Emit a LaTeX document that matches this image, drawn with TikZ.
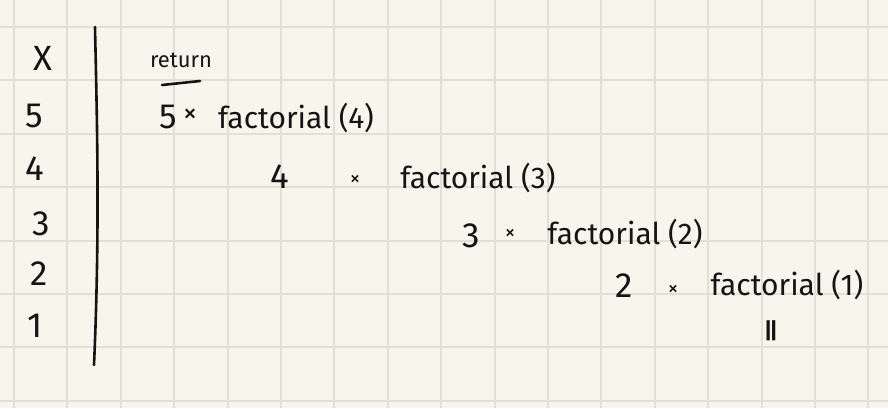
\documentclass[tikz,border=0pt]{standalone}
\usepackage{fontspec}
\setmainfont{Fira Sans}
\definecolor{paper}{HTML}{F8F6EC}
\definecolor{gridc}{HTML}{E2DFD5}
\definecolor{ink}{HTML}{141414}
\begin{document}
\begin{tikzpicture}[x=1pt,y=-1pt,
  hand/.style={text=ink, inner sep=0pt, anchor=base, font=\fontsize{30}{30}\selectfont},
  digit/.style={text=ink, inner sep=0pt, anchor=base, font=\fontsize{35}{35}\selectfont},
  handsm/.style={text=ink, inner sep=0pt, anchor=base, font=\fontsize{22}{22}\selectfont},
  timesbig/.style={text=ink, inner sep=0pt, font=\fontsize{28}{28}\selectfont},
  timessm/.style={text=ink, inner sep=0pt, font=\fontsize{21}{21}\selectfont},
  gridline/.style={gridc, line width=2pt},
  inkline/.style={ink, line width=2.6pt, line cap=round}]
\fill[paper] (0,0) rectangle (888,408);
\useasboundingbox (0,0) rectangle (888,408);
\foreach \i in {0,...,16} \draw[gridline] ({14+53.4*\i},0) -- ({14+53.4*\i},408);
\foreach \j in {0,...,7} \draw[gridline] (0,{27+53.4*\j}) -- (888,{27+53.4*\j});
% left column
\node[digit] (hx) at (43,70) {X};
\node[digit] (h5) at (34,127) {5};
\node[digit] (h4) at (35,180) {4};
\node[digit] (h3) at (41,235) {3};
\node[digit] (h2) at (39,285) {2};
\node[digit] (h1) at (35,337) {1};
% divider
\draw[inkline] (95,27) .. controls (97,120) and (100,230) .. (94,365);
% return
\node[handsm] (ret) at (181,67) {return};
\draw[inkline] (162,85) -- (200,81);
% row 5
\node[digit] (a5) at (168,128) {5};
\node[timesbig] (m5) at (190,116) {×};
\node[hand] (f5) at (296,128) {factorial (4)};
% row 4
\node[digit] (a4) at (280,188) {4};
\node[timessm] (m4) at (355,180) {×};
\node[hand] (f4) at (478,188) {factorial (3)};
% row 3
\node[digit] (a3) at (471,247) {3};
\node[timessm] (m3) at (510,234) {×};
\node[hand] (f3) at (625,244) {factorial (2)};
% row 2
\node[digit] (a2) at (624,297) {2};
\node[timessm] (m2) at (673,290) {×};
\node[hand] (f2) at (787,295) {factorial (1)};
% result mark
\node[text=ink, inner sep=0pt, anchor=base, font=\bfseries\fontsize{22}{22}\selectfont] (r1) at (771,338) {|\kern-3pt|};
\end{tikzpicture}
\end{document}
